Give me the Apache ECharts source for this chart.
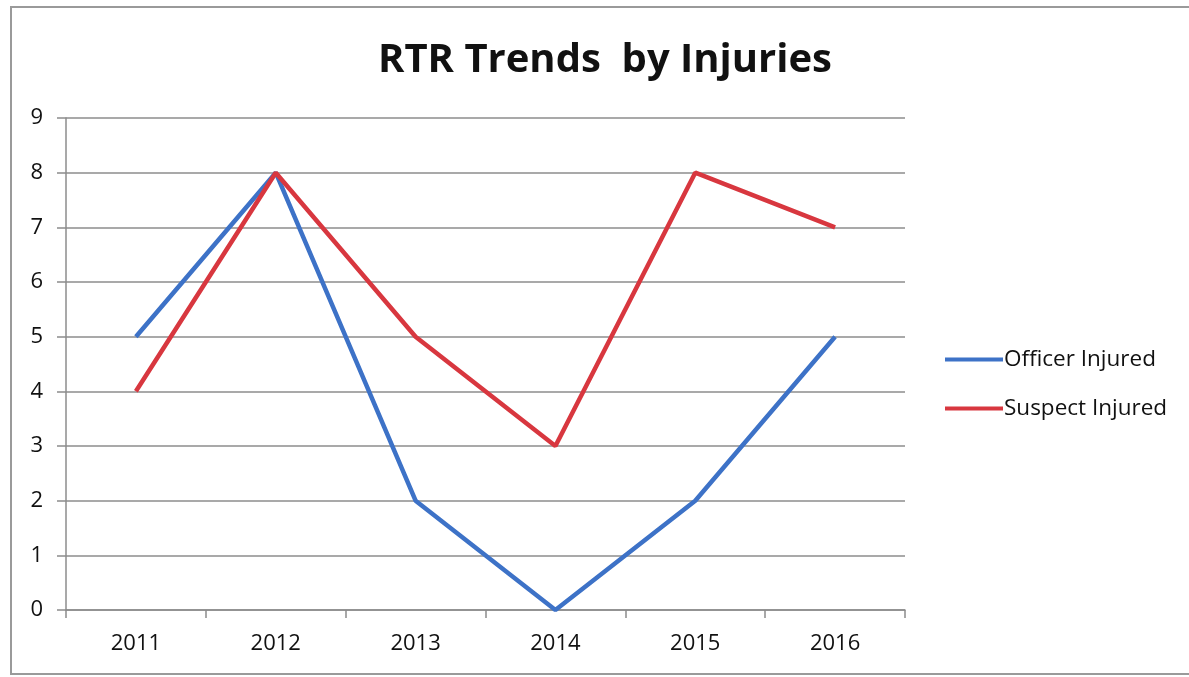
<!DOCTYPE html>
<html>
<head>
<meta charset="utf-8">
<script src="https://cdn.jsdelivr.net/npm/echarts@6/dist/echarts.min.js"></script>
<style>
  html, body { margin: 0; padding: 0; background: #fff; }
  #chart { width: 1189px; height: 677px; }
</style>
</head>
<body>
<div id="chart"></div>
<script>
// Yearly counts of response-to-resistance incidents with injuries
const years = ['2011', '2012', '2013', '2014', '2015', '2016'];
const officerInjured = [5, 8, 2, 0, 2, 5];
const suspectInjured = [4, 8, 5, 3, 8, 7];
const yTicks = { min: 0, max: 9, interval: 1 };

const font = '"Open Sans", "DejaVu Sans", sans-serif';
const axisGray = '#8c8c8c';

const chart = echarts.init(document.getElementById('chart'), null, { renderer: 'canvas' });
chart.setOption({
  backgroundColor: '#ffffff',
  animation: false,
  title: {
    text: 'RTR Trends  by Injuries',
    left: 600,
    textAlign: 'center',
    top: 36,
    textStyle: { fontFamily: font, fontWeight: 'bold', fontSize: 40, color: '#111' }
  },
  graphic: [{
    type: 'rect',
    shape: { x: 11, y: 7, width: 1200, height: 667 },
    style: { fill: 'none', stroke: '#9a9a9a', lineWidth: 2 },
    silent: true,
    z: -1
  }],
  legend: {
    orient: 'vertical',
    left: 940,
    top: 343,
    itemGap: 26,
    itemWidth: 58,
    itemHeight: 4,
    icon: 'rect',
    textStyle: { fontFamily: font, fontSize: 22.5, color: '#111', padding: [0, 0, 0, -4] },
    data: ['Officer Injured', 'Suspect Injured']
  },
  grid: { left: 66, right: 284, top: 118, bottom: 67, containLabel: false },
  xAxis: {
    type: 'category',
    data: years,
    boundaryGap: true,
    axisLine: { lineStyle: { color: axisGray, width: 1.5 } },
    axisTick: { show: true, length: 8, lineStyle: { color: axisGray, width: 1.5 } },
    axisLabel: { fontFamily: font, fontSize: 22, color: '#111', margin: 23 }
  },
  yAxis: {
    type: 'value',
    min: yTicks.min,
    max: yTicks.max,
    interval: yTicks.interval,
    axisLine: { show: true, lineStyle: { color: axisGray, width: 1.5 } },
    axisTick: { show: true, length: 9, lineStyle: { color: axisGray, width: 1.5 } },
    axisLabel: { fontFamily: font, fontSize: 22, color: '#111', margin: 23 },
    splitLine: { show: true, lineStyle: { color: axisGray, width: 1.5 } }
  },
  series: [
    {
      name: 'Officer Injured',
      type: 'line',
      data: officerInjured,
      symbol: 'none',
      lineStyle: { color: '#3d72c7', width: 4.5 },
      itemStyle: { color: '#3d72c7' }
    },
    {
      name: 'Suspect Injured',
      type: 'line',
      data: suspectInjured,
      symbol: 'none',
      lineStyle: { color: '#d8373f', width: 4.5 },
      itemStyle: { color: '#d8373f' }
    }
  ]
});
</script>
</body>
</html>
